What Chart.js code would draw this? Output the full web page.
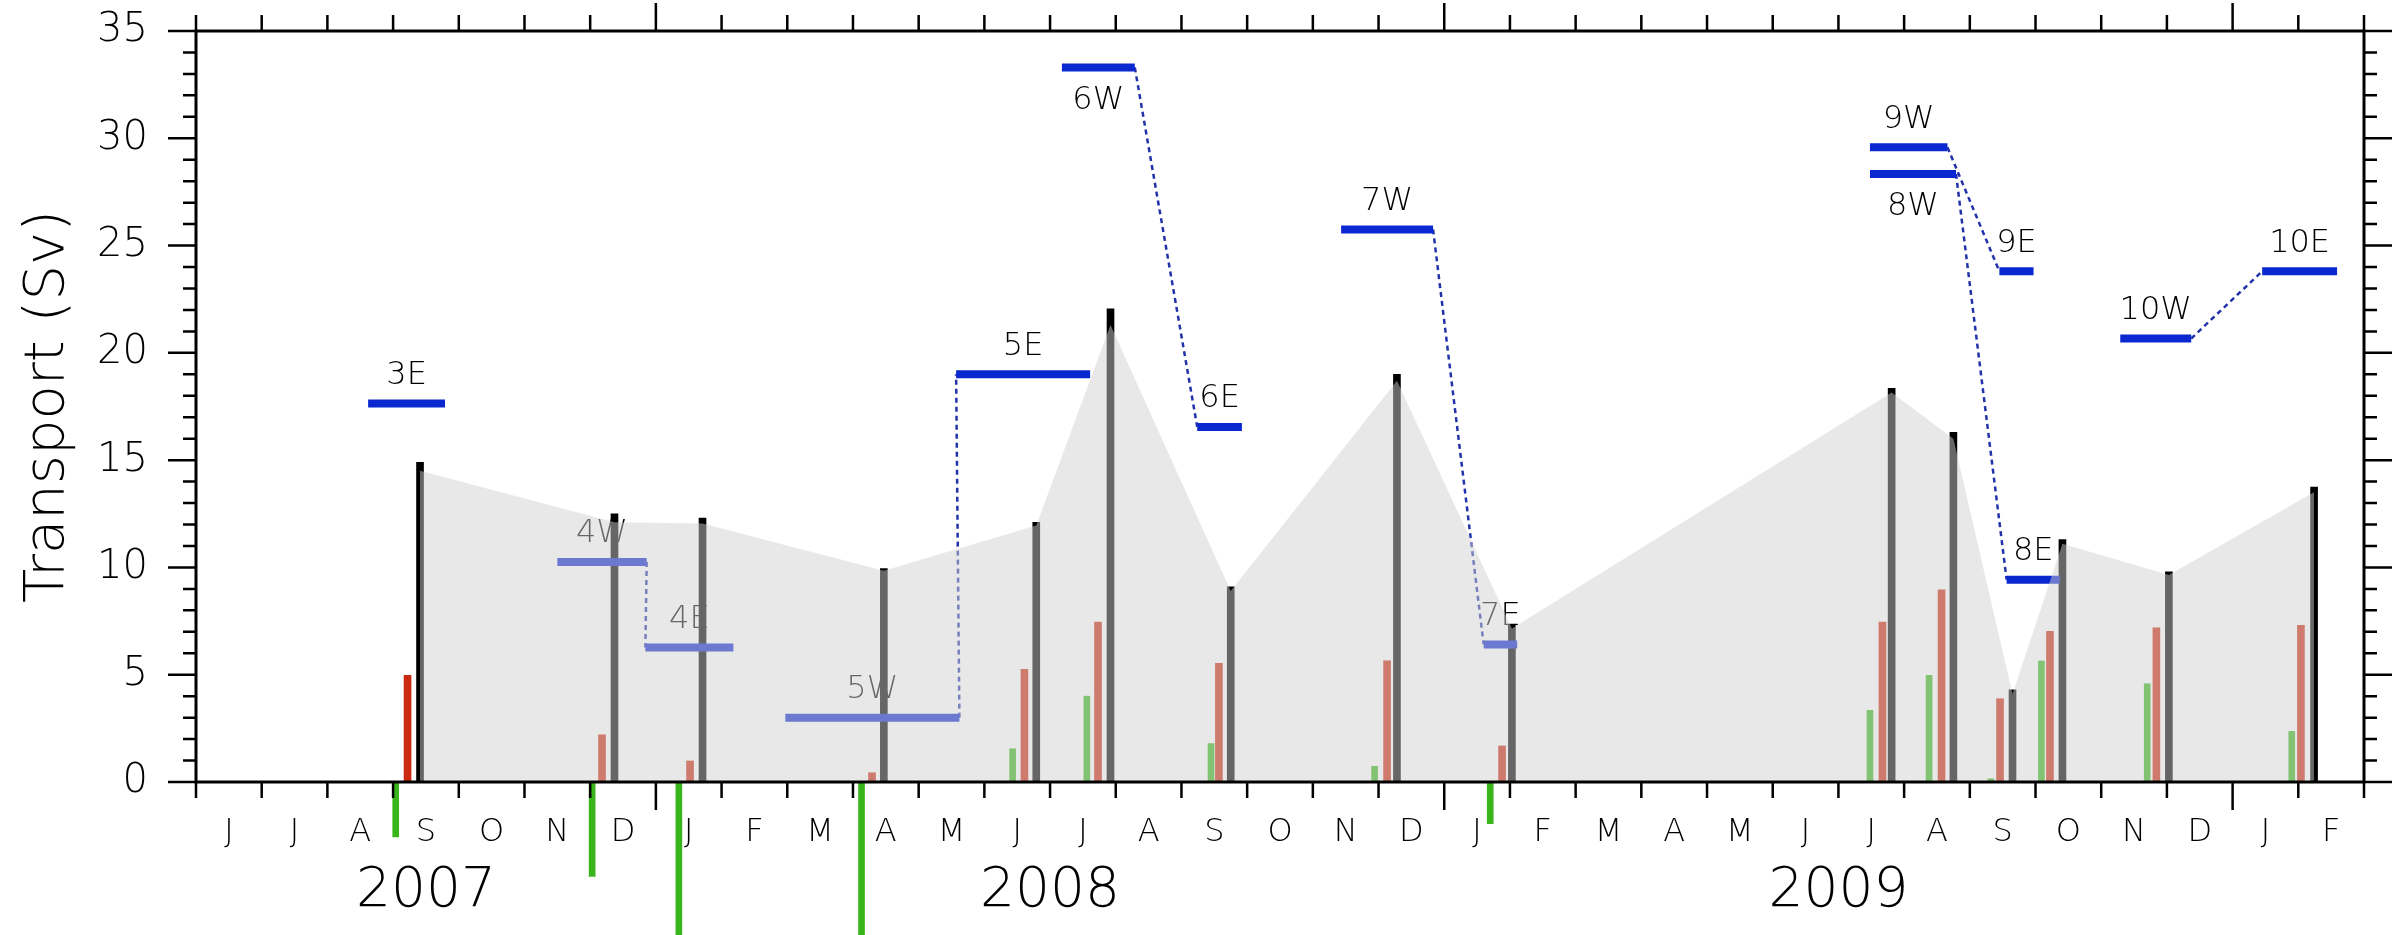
<!DOCTYPE html>
<html>
<head>
<meta charset="utf-8">
<script src="https://cdn.jsdelivr.net/npm/chart.js@4/dist/chart.umd.min.js"></script>
<style>
  html, body { margin: 0; padding: 0; background: #fff; }
  canvas { display: block; }
</style>
</head>
<body>
<canvas id="grafico" width="2399" height="935"></canvas>
<script>
// Eixo x em meses desde 1 Jun 2007 (0 = Jun 2007, 33 = Mar 2010)
const monthLabels = ['J','J','A','S','O','N','D','J','F','M','A','M','J','J','A','S','O','N','D','J','F','M','A','M','J','J','A','S','O','N','D','J','F'];
const yearLabels = ['2007', '2008', '2009'];
const yearCentre = [3.5, 13, 25];
const yearStart = [7, 19, 31];

// Barras pretas/cinzentas (transporte total)
const totalTime  = [3.41, 6.37, 7.71, 10.47, 12.79, 13.92, 15.75, 18.28, 20.03, 25.81, 26.75, 27.65, 28.41, 30.03, 32.24];
const totalValue = [14.9, 12.5, 12.3, 9.95, 12.1, 22.05, 9.1, 19.0, 7.3, 18.35, 16.3, 4.3, 11.3, 9.8, 13.75];
// Envelope sombreado (mesmos tempos que as barras totais)
const envValue   = [14.5, 12.1, 12.05, 9.85, 11.95, 21.3, 8.9, 18.7, 7.15, 18.15, 16.0, 4.1, 11.1, 9.65, 13.5];

// Barras vermelhas
const redTime  = [3.22, 6.18, 7.52, 10.29, 12.61, 13.73, 15.57, 18.13, 19.88, 25.67, 26.57, 27.46, 28.22, 29.84, 32.04];
const redValue = [4.97, 2.2, 0.98, 0.43, 5.25, 7.45, 5.53, 5.65, 1.68, 7.45, 8.96, 3.88, 7.02, 7.19, 7.3];

// Barras verdes
const greenTime  = [3.04, 6.03, 7.35, 10.13, 12.43, 13.56, 15.45, 17.94, 19.70, 25.48, 26.38, 27.32, 28.09, 29.70, 31.90];
const greenValue = [-2.56, -4.4, -8, -8, 1.55, 4.0, 1.79, 0.73, -1.94, 3.34, 4.97, 0.15, 5.64, 4.58, 2.36];

// Segmentos azuis (W / E)
const segName  = ['3E', '4W', '4E', '5W', '5E', '6W', '6E', '7W', '7E', '8W', '8E', '9W', '9E', '10W', '10E'];
const segStart = [2.62, 5.50, 6.84, 8.97, 11.57, 13.18, 15.24, 17.43, 19.60, 25.48, 27.56, 25.48, 27.45, 29.29, 31.45];
const segEnd   = [3.79, 6.86, 8.18, 11.62, 13.61, 14.29, 15.92, 18.83, 20.11, 26.79, 28.37, 26.66, 27.97, 30.37, 32.59];
const segValue = [17.64, 10.25, 6.27, 3.0, 19.0, 33.3, 16.55, 25.75, 6.41, 28.34, 9.43, 29.58, 23.8, 20.67, 23.8];
const labelBelow = ['6W', '8W'];
// Ligações pontilhadas W -> E
const linkFrom = ['4W', '5W', '6W', '7W', '8W', '9W', '10W'];
const linkTo   = ['4E', '5E', '6E', '7E', '8E', '9E', '10E'];

const fonte = '"DejaVu Sans", sans-serif';
const peso = 200;

// Construímos os pontos
const toPts = (xs, ys) => xs.map((t, i) => ({x: t, y: ys[i]}));

let segPts = [];
segName.forEach((n, i) => {
    segPts.push({x: segStart[i], y: segValue[i]}, {x: segEnd[i], y: segValue[i]}, {x: segEnd[i], y: null});
});

let linkPts = [];
linkFrom.forEach((w, k) => {
    const a = segName.indexOf(w);
    const b = segName.indexOf(linkTo[k]);
    linkPts.push({x: segEnd[a], y: segValue[a]}, {x: segStart[b], y: segValue[b]}, {x: segStart[b], y: null});
});

// Rótulos dos segmentos (desenhados por baixo do sombreado)
const rotulosPlugin = {
    id: 'rotulos',
    beforeDatasetsDraw(chart) {
        const {ctx, scales: {x, y}} = chart;
        ctx.save();
        ctx.font = peso + ' 32px ' + fonte;
        ctx.fillStyle = '#000';
        ctx.textAlign = 'center';
        ctx.textBaseline = 'middle';
        segName.forEach((nome, i) => {
            const px = x.getPixelForValue((segStart[i] + segEnd[i]) / 2);
            const py = y.getPixelForValue(segValue[i]) + (labelBelow.includes(nome) ? 33 : -28);
            ctx.fillText(nome, px, py);
        });
        ctx.restore();
    }
};

// Moldura com as marcas dos eixos
const molduraPlugin = {
    id: 'moldura',
    afterDatasetsDraw(chart) {
        const {ctx, chartArea: a, scales: {x, y}} = chart;
        ctx.save();
        ctx.strokeStyle = '#000';
        ctx.lineWidth = 3;
        ctx.strokeRect(a.left, a.top, a.right - a.left, a.bottom - a.top);
        ctx.lineWidth = 2.5;
        ctx.beginPath();
        for (let m = 0; m <= monthLabels.length; m++) {
            const px = x.getPixelForValue(m);
            const len = yearStart.includes(m) ? 28 : 16;
            ctx.moveTo(px, a.bottom); ctx.lineTo(px, a.bottom + len);
            ctx.moveTo(px, a.top); ctx.lineTo(px, a.top - len);
        }
        for (let v = 0; v <= 35; v++) {
            const py = y.getPixelForValue(v);
            const len = v % 5 === 0 ? 28 : 13;
            ctx.moveTo(a.left, py); ctx.lineTo(a.left - len, py);
            ctx.moveTo(a.right, py); ctx.lineTo(a.right + len, py);
        }
        ctx.stroke();
        ctx.restore();
    }
};

window.addEventListener("load", function() {
    let ctx = document.getElementById('grafico');

    new Chart(ctx, {
        type: 'line',
        data: {
            datasets: [
                {
                    // sombreado por cima de tudo
                    data: toPts(totalTime, envValue),
                    fill: 'origin',
                    backgroundColor: 'rgba(208,208,208,0.49)',
                    borderWidth: 0,
                    tension: 0,
                    order: 0
                },
                {
                    data: segPts,
                    borderColor: '#0a28d0',
                    borderWidth: 8,
                    borderCapStyle: 'butt',
                    spanGaps: false,
                    order: 2
                },
                {
                    data: linkPts,
                    borderColor: '#2233aa',
                    borderWidth: 2.5,
                    borderDash: [5, 4],
                    spanGaps: false,
                    order: 2
                },
                {
                    type: 'bar',
                    data: toPts(totalTime, totalValue),
                    backgroundColor: '#000',
                    barThickness: 7,
                    grouped: false,
                    order: 3
                },
                {
                    type: 'bar',
                    data: toPts(redTime, redValue),
                    backgroundColor: '#cc2a10',
                    barThickness: 7,
                    grouped: false,
                    order: 3
                },
                {
                    type: 'bar',
                    data: toPts(greenTime, greenValue),
                    backgroundColor: '#38b51a',
                    barThickness: 6,
                    grouped: false,
                    clip: false,
                    order: 3
                }
            ]
        },
        options: {
            responsive: false,
            devicePixelRatio: 1,
            animation: false,
            layout: {
                padding: {left: 0, right: 35, top: 31, bottom: 0}
            },
            elements: {
                point: {radius: 0}
            },
            plugins: {
                legend: {display: false},
                tooltip: {enabled: false}
            },
            scales: {
                x: {
                    type: 'linear', position: 'bottom', min: 0, max: 33, offset: false,
                    grid: {display: false, drawTicks: false},
                    border: {display: false},
                    afterBuildTicks: s => { s.ticks = monthLabels.map((m, i) => ({value: i + 0.5})); },
                    ticks: {
                        autoSkip: false, maxRotation: 0, padding: 31, color: '#000',
                        font: {family: fonte, size: 32, weight: peso},
                        callback: (v, i) => monthLabels[i]
                    },
                    afterFit: s => { s.height = 70; }
                },
                xYear: {
                    type: 'linear', position: 'bottom', min: 0, max: 33, offset: false,
                    grid: {display: false, drawTicks: false},
                    border: {display: false},
                    afterBuildTicks: s => { s.ticks = yearCentre.map(v => ({value: v})); },
                    ticks: {
                        autoSkip: false, maxRotation: 0, padding: 7, color: '#000',
                        font: {family: fonte, size: 55, weight: peso},
                        callback: (v, i) => yearLabels[i]
                    },
                    afterFit: s => { s.height = 83; }
                },
                y: {
                    type: 'linear', position: 'left', min: 0, max: 35,
                    grid: {display: false, drawTicks: true, tickLength: 44},
                    border: {display: false},
                    ticks: {
                        stepSize: 5, padding: 4, color: '#000',
                        font: {family: fonte, size: 40, weight: peso}
                    },
                    title: {
                        display: true, text: 'Transport (Sv)', color: '#000',
                        font: {family: fonte, size: 56, weight: peso},
                        padding: {top: 15, bottom: 0}
                    },
                    afterFit: s => { s.width = 196; }
                }
            }
        },
        plugins: [rotulosPlugin, molduraPlugin]
    });
}, false);
</script>
</body>
</html>
